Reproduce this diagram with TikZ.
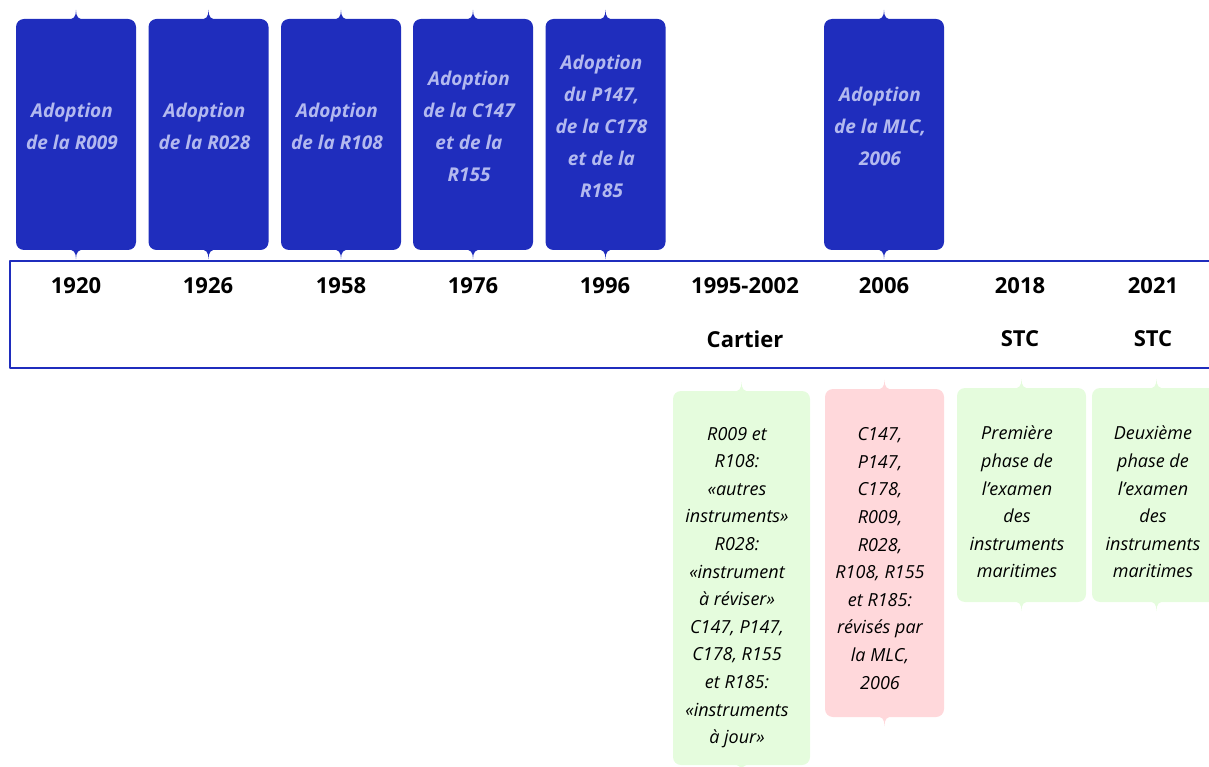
\documentclass[tikz,border=0pt]{standalone}
\usepackage{fontspec}
\setmainfont{Open Sans}
\definecolor{ilo}{HTML}{1F2DBD}
\definecolor{lilac}{HTML}{B3B9EF}
\definecolor{mint}{HTML}{E5FCDD}
\definecolor{blush}{HTML}{FFD8DB}
% small pointed tips above and below a box
\newcommand{\tlcusps}[2]{%
	\fill[#2] ([xshift=-10pt,yshift=-1pt]#1.north) .. controls ([xshift=-2pt,yshift=-1pt]#1.north) and ([yshift=2pt]#1.north) .. ([yshift=9pt]#1.north) .. controls ([yshift=2pt]#1.north) and ([xshift=2pt,yshift=-1pt]#1.north) .. ([xshift=10pt,yshift=-1pt]#1.north) -- cycle;
	\fill[#2] ([xshift=-10pt,yshift=1pt]#1.south) .. controls ([xshift=-2pt,yshift=1pt]#1.south) and ([yshift=-2pt]#1.south) .. ([yshift=-9pt]#1.south) .. controls ([yshift=-2pt]#1.south) and ([xshift=2pt,yshift=1pt]#1.south) .. ([xshift=10pt,yshift=1pt]#1.south) -- cycle;}
\begin{document}
\begin{tikzpicture}[x=1pt, y=-1pt, line join=round,
	topbox/.style={fill=ilo, rounded corners=8pt, minimum width=120pt, minimum height=231pt, inner sep=0pt},
	toptext/.style={text=lilac, align=center, font={\fontsize{19}{32}\selectfont\bfseries\itshape}},
	year/.style={font={\fontsize{22}{26}\selectfont\bfseries}},
	note/.style={rounded corners=8pt, inner sep=0pt},
	notetext/.style={align=center, font={\fontsize{18}{27.6}\selectfont\itshape}}]
	\useasboundingbox (0,0) rectangle (1209,767);
	\clip (0,0) rectangle (1209,767);
	% adoptions
	\foreach \x/\txt [count=\i] in {76/{Adoption\\de la R009}, 208.5/{Adoption\\de la R028}, 341/{Adoption\\de la R108}, 473/{Adoption\\de la C147\\et de la\\R155}, 605.5/{Adoption\\du P147,\\de la C178\\et de la\\R185}, 884/{Adoption\\de la MLC,\\2006}} {
		\node[topbox] (box\i) at (\x,134.5) {};
		\tlcusps{box\i}{ilo}
		\node[toptext] (adopt\i) at (\x-4,126) {\txt};
	}
	% timeline band
	\draw[ilo, line width=2pt] (1215,261) -- (10,261) -- (10,368) -- (1215,368);
	\foreach \x/\yr [count=\i] in {76/1920, 208/1926, 341/1958, 473/1976, 605/1996, 745/1995-2002, 884/2006, 1020/2018, 1153/2021}
		\node[year] (yr\i) at (\x,286) {\yr};
	\node[year] (cartier) at (745,339) {Cartier};
	\node[year] (stc1) at (1020,339) {STC};
	\node[year] (stc2) at (1153,339) {STC};
	% reviews
	\node[note, fill=mint, minimum width=137pt, minimum height=374pt] (rev1) at (741.5,578) {};
	\node[note, fill=blush, minimum width=119pt, minimum height=328pt] (rev2) at (884.5,553) {};
	\node[note, fill=mint, minimum width=129pt, minimum height=214pt] (rev3) at (1021.5,495) {};
	\node[note, fill=mint, minimum width=129pt, minimum height=214pt] (rev4) at (1156.5,495) {};
	\tlcusps{rev1}{mint}
	\tlcusps{rev2}{blush}
	\tlcusps{rev3}{mint}
	\tlcusps{rev4}{mint}
	\node[notetext] (rev1txt) at (737,587.5) {R009 et\\R108:\\«autres\\instruments»\\R028:\\«instrument\\à réviser»\\C147, P147,\\C178, R155\\et R185:\\«instruments\\à jour»};
	\node[notetext] (rev2txt) at (880,558.5) {C147,\\P147,\\C178,\\R009,\\R028,\\R108, R155\\et R185:\\révisés par\\la MLC,\\2006};
	\node[notetext] (rev3txt) at (1017,502) {Première\\phase de\\l’examen\\des\\instruments\\maritimes};
	\node[notetext] (rev4txt) at (1153,502) {Deuxième\\phase de\\l’examen\\des\\instruments\\maritimes};
\end{tikzpicture}
\end{document}
